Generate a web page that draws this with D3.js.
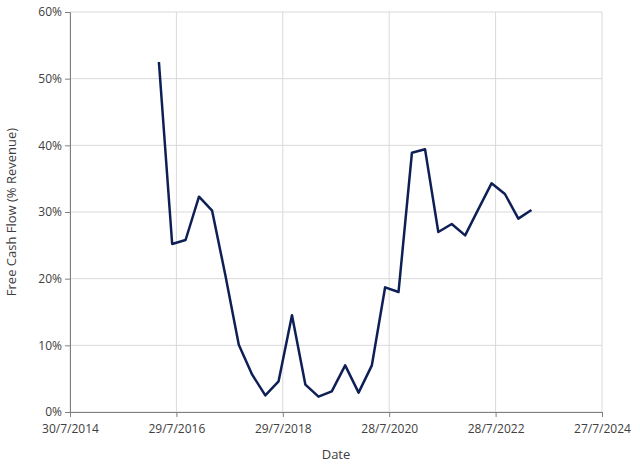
<!DOCTYPE html>
<html><head><meta charset="utf-8">
<script src="https://cdn.jsdelivr.net/npm/d3@7"></script>
<style>body{margin:0;background:#fff}text{font-family:"Open Sans",sans-serif;fill:#404040}</style>
</head><body>
<script>
// quarterly end dates, first and last
const first_quarter = '2016-03-31';
const values = [52.5,25.2,25.8,32.3,30.2,20.5,10.1,5.6,2.5,4.6,14.5,4.1,2.3,3.1,7.0,2.9,7.0,18.7,18.0,38.9,39.4,27.0,28.2,26.5,30.4,34.3,32.7,29.0,30.3];
const x_ticks = ['2014-07-30','2016-07-29','2018-07-29','2020-07-28','2022-07-28','2024-07-27'];
const y_ticks = [0,10,20,30,40,50,60];

const parse = d3.timeParse('%Y-%m-%d');
const start = parse(first_quarter);
const data = values.map((v, i) => ({
	date: d3.timeDay.offset(d3.timeMonth.offset(d3.timeDay.offset(start, 1), 3 * i), -1),
	value: v
}));
const tickDates = x_ticks.map(parse);

const W = 640, H = 464, m = {l: 70, r: 38, t: 12, b: 52};
const svg = d3.select('body').append('svg').attr('width', W).attr('height', H);

const x = d3.scaleTime().domain([tickDates[0], tickDates[tickDates.length - 1]]).range([m.l, W - m.r]);
const y = d3.scaleLinear().domain([0, 60]).range([H - m.b, m.t]);

// grid
svg.append('g').selectAll('line').data(y_ticks).join('line')
	.attr('x1', m.l).attr('x2', W - m.r).attr('y1', d => y(d)).attr('y2', d => y(d))
	.attr('stroke', '#d9d9d9');
svg.append('g').selectAll('line').data(tickDates).join('line')
	.attr('y1', m.t).attr('y2', H - m.b).attr('x1', d => x(d)).attr('x2', d => x(d))
	.attr('stroke', '#d9d9d9');

const fmt = d3.timeFormat('%-d/%-m/%Y');
const xa = svg.append('g').attr('transform', `translate(0,${H - m.b})`)
	.call(d3.axisBottom(x).tickValues(tickDates).tickFormat(fmt).tickSize(5));
const ya = svg.append('g').attr('transform', `translate(${m.l},0)`)
	.call(d3.axisLeft(y).tickValues(y_ticks).tickFormat(d => d + '%').tickSize(5));
[xa, ya].forEach(a => {
	a.selectAll('path,line').attr('stroke', '#808080');
	a.selectAll('text').style('font-size', '12px').attr('fill', '#404040');
});
xa.selectAll('text').attr('dy', '1.1em');

svg.append('path').datum(data)
	.attr('fill', 'none').attr('stroke', '#0e1f56').attr('stroke-width', 2.5)
	.attr('stroke-linejoin', 'round')
	.attr('d', d3.line().x(d => x(d.date)).y(d => y(d.value)));

svg.append('text').attr('x', (m.l + W - m.r) / 2).attr('y', 459)
	.attr('text-anchor', 'middle').style('font-size', '13px').text('Date');
svg.append('text').attr('transform', `translate(16,${(m.t + H - m.b) / 2}) rotate(-90)`)
	.attr('text-anchor', 'middle').style('font-size', '13px').text('Free Cash Flow (% Revenue)');
</script>
</body></html>
